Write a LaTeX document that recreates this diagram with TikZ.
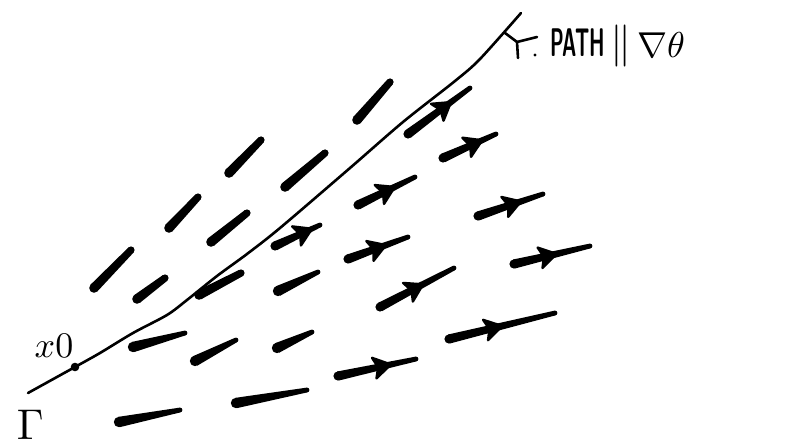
\documentclass[tikz,border=0pt]{standalone}
\usetikzlibrary{calc}
\tikzset{
  ink/.style={fill=black, draw=none},
  pathline/.style={line width=2.6pt, line cap=round, line join=round},
  pen/.style={line width=2.6pt, line cap=round, line join=round},
}
% comet-shaped brush stroke from #1 (radius #3) to #2 (radius #4)
\newcommand\mybrush[4]{%
  \fill[ink] (#1) circle (#3);
  \fill[ink] (#2) circle (#4);
  \fill[ink] ($(#1)!#3!90:(#2)$) -- ($(#2)!#4!-90:(#1)$) -- ($(#2)!#4!90:(#1)$) -- ($(#1)!#3!-90:(#2)$) -- cycle;}
% hand-drawn arrow head on segment #1--#2 at fraction #3
\newcommand\myhead[3]{%
  \coordinate (hd) at ($(#1)!#3!(#2)$);
  \fill[ink, draw=black, line width=2.4pt, line join=round] ($(hd)!11pt!(#2)$) -- ($(hd)!-6pt!(#2)!10.5pt!90:(#2)$) -- ($(hd)!-2pt!(#2)$)
    -- ($(hd)!-6pt!(#2)!10.5pt!-90:(#2)$) -- cycle;}
\newcommand\steepstroke[2]{\mybrush{#1}{#2}{4.8pt}{3.6pt}}
\newcommand\flatstroke[2]{\mybrush{#1}{#2}{5.2pt}{2.4pt}}
\newcommand\arrowstroke[3]{\mybrush{#1}{#2}{4.6pt}{2.4pt}\myhead{#1}{#2}{#3}}
\begin{document}
\begin{tikzpicture}[x=1pt,y=-1pt]
\path[fill=white,use as bounding box] (0,0) rectangle (787,446);

% the path
\draw[pathline] plot[smooth, tension=0.5] coordinates
  {(28,393) (75,367) (100,353) (133,333) (167,315) (187,300) (217,276) (247,254) (280,228) (350,168) (403,122) (455,81) (480,59) (521,13)};
\coordinate (x0) at (75,367);
\fill (x0) circle (4.3pt);

% steep strokes above-left of the path
\steepstroke{357,120}{390,82}
\steepstroke{229,173}{261,140}
\steepstroke{285,187}{325,153}
\steepstroke{169,228}{198,197}
\steepstroke{211,242}{247,213}
\steepstroke{94,288}{131,250}
\steepstroke{137,299}{165,278}
\steepstroke{199,295}{241,273}

% flat strokes without heads
\flatstroke{133,347}{185,333}
\flatstroke{195,361}{236,340}
\flatstroke{277,348}{312,332}
\flatstroke{278,291}{318,272}
\flatstroke{119,422}{180,410}
\flatstroke{236,403}{307,390}

% strokes with heads
\arrowstroke{408,134}{470,88}{0.55}
\arrowstroke{443,158}{496,134}{0.55}
\arrowstroke{358,205}{415,177}{0.47}
\arrowstroke{478,216}{543,194}{0.5}
\arrowstroke{275,246}{320,225}{0.6}
\arrowstroke{348,259}{408,237}{0.46}
\arrowstroke{514,264}{590,246}{0.42}
\arrowstroke{380,307}{454,268}{0.45}
\arrowstroke{449,339}{555,313}{0.4}
\arrowstroke{338,376}{416,359}{0.54}

% labels
\node[scale=3.6, inner sep=0] (x0lab) at (54,346) {$x0$};
\node[scale=4.3, anchor=south west, inner sep=0] (gamma) at (16,440) {$\Gamma$};

% pointer to the path
\coordinate (ptip) at (505,33);
\coordinate (pjoin) at (517,42);
\coordinate (pbarb1) at (537,37);
\coordinate (pbarb2) at (518,58);
\draw[pen] (ptip) -- (pjoin);
\draw[pen] (pbarb1) -- (pjoin) -- (pbarb2);
\fill (535,55) circle (1.6pt);
\node[font=\sffamily\bfseries, xscale=1.95, yscale=4, inner sep=0] (path) at (578,43) {PATH};
\node[scale=4.2, inner sep=0] (par) at (621,46) {$\|$};
\node[scale=3.6, inner sep=0] (grad) at (661,45) {$\nabla\theta$};
\end{tikzpicture}
\end{document}
